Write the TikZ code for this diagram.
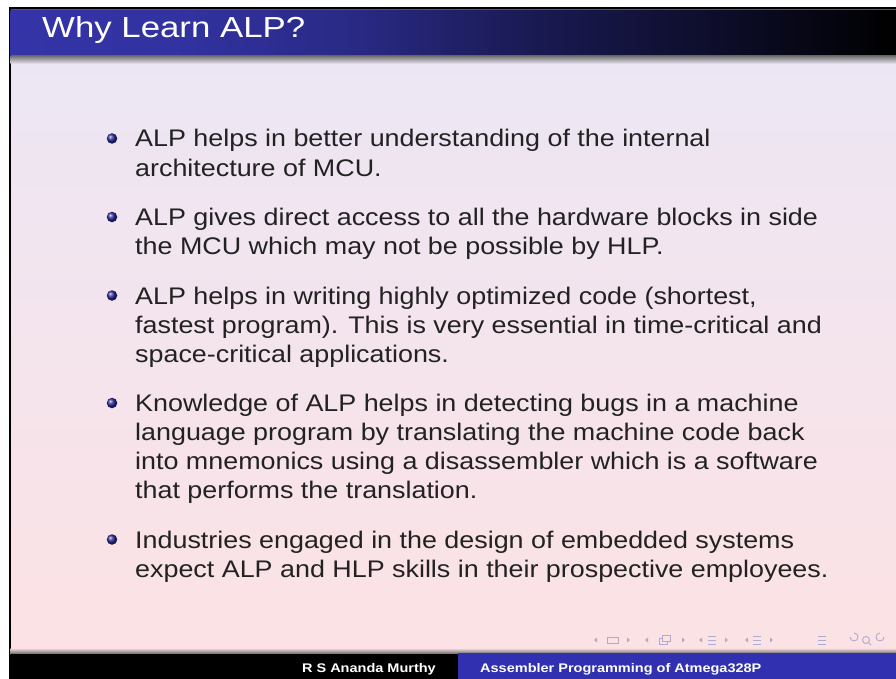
\documentclass[tikz,border=0pt]{standalone}
\usepackage{fontspec}
\setmainfont{Liberation Sans}
\newfontfamily\titlefont[FakeStretch=1.2]{Liberation Sans}
\newfontfamily\bodyfont[FakeStretch=1.12]{Liberation Sans}
\newfontfamily\footfont[FakeStretch=1.16]{Liberation Sans}
\usetikzlibrary{shapes,positioning,calc}

\definecolor{barblue}{RGB}{52,52,168}
\definecolor{footblue}{RGB}{48,48,176}
\definecolor{bgtop}{RGB}{236,230,244}
\definecolor{bgbottom}{RGB}{252,226,228}
\definecolor{navgray}{RGB}{172,172,205}
\definecolor{ballblue}{RGB}{40,40,150}
\definecolor{bodyink}{RGB}{34,34,34}

% frame title bar: blue on the left, fading to black
\pgfdeclarehorizontalshading{titlebar}{100bp}{color(0bp)=(barblue); color(25bp)=(barblue);
  color(35bp)=(barblue!95!black); color(45bp)=(barblue!78!black); color(50bp)=(barblue!62!black);
  color(55bp)=(barblue!48!black); color(65bp)=(barblue!25!black); color(75bp)=(black); color(100bp)=(black)}

\begin{document}
\begin{tikzpicture}[x=1pt, y=-1pt]
    \tikzstyle{item} = [anchor=base west, inner sep=0pt, align=left, text=bodyink, font=\bodyfont\fontsize{24}{29}\selectfont]
    \tikzstyle{ball} = [circle, inner sep=0pt, minimum size=10.5pt, shading=ball, ball color=ballblue]
    \tikzstyle{footer} = [inner sep=0pt, text=white, font=\footfont\bfseries\fontsize{12.5}{14}\selectfont]
    \tikzstyle{nav} = [draw=navgray, line width=0.9pt]

    % page, border and background
    \useasboundingbox (0,0) rectangle (896,679);
    \fill[white] (0,0) rectangle (896,679);
    \shade[top color=bgtop, bottom color=bgbottom] (10,56) rectangle (896,653);
    \fill[black] (9,7) rectangle (896,9);
    \fill[black] (9,7) rectangle (10.5,679);
    \fill[black!65] (10.5,9) rectangle (896,11);

    % Title bar
    \shade[shading=titlebar] (10.5,11) rectangle (896,56);
    \shade[top color=black!55, bottom color=bgtop] (10.5,56) rectangle (896,64);
    \node[anchor=base west, inner sep=0pt, text=white, font=\titlefont\fontsize{29}{34}\selectfont] (title) at (42,38) {Why Learn ALP?};

    % Bullet items (anchored on the baseline of their last line)
    \node[item] (item1) at (135,176) {ALP helps in better understanding of the internal\\architecture of MCU.};
    \node[item] (item2) at (135,254.5) {ALP gives direct access to all the hardware blocks in side\\the MCU which may not be possible by HLP.};
    \node[item] (item3) at (135,362) {ALP helps in writing highly optimized code (shortest,\\fastest program). This is very essential in time-critical and\\space-critical applications.};
    \node[item] (item4) at (135,498.5) {Knowledge of ALP helps in detecting bugs in a machine\\language program by translating the machine code back\\into mnemonics using a disassembler which is a software\\that performs the translation.};
    \node[item] (item5) at (135,577) {Industries engaged in the design of embedded systems\\expect ALP and HLP skills in their prospective employees.};

    \node[ball] (ball1) at (112,138.5) {};
    \node[ball] (ball2) at (112,217) {};
    \node[ball] (ball3) at (112,295.5) {};
    \node[ball] (ball4) at (112,403) {};
    \node[ball] (ball5) at (112,539.5) {};

    % Navigation symbols
    \fill[navgray] (594,640) -- ++(3,-2.5) -- ++(0,5) -- cycle;
    \draw[nav] (607,637) rectangle (618,643);
    \fill[navgray] (630,640) -- ++(-3,-2.5) -- ++(0,5) -- cycle;
    \fill[navgray] (645,640) -- ++(3,-2.5) -- ++(0,5) -- cycle;
    \draw[nav] (659,638) rectangle (667,644);
    \draw[nav, fill=bgbottom] (662,635) rectangle (670,641);
    \fill[navgray] (685,640) -- ++(-3,-2.5) -- ++(0,5) -- cycle;
    \fill[navgray] (699,640) -- ++(3,-2.5) -- ++(0,5) -- cycle;
    \draw[nav] (708,636) -- (716,636) (708,640) -- (716,640) (708,644) -- (716,644);
    \fill[navgray] (728,640) -- ++(-3,-2.5) -- ++(0,5) -- cycle;
    \fill[navgray] (745,640) -- ++(3,-2.5) -- ++(0,5) -- cycle;
    \draw[nav] (753,636) -- (761,636) (753,640) -- (761,640) (753,644) -- (761,644);
    \fill[navgray] (773,640) -- ++(-3,-2.5) -- ++(0,5) -- cycle;
    \draw[nav] (818,636) -- (826,636) (818,640) -- (826,640) (818,644) -- (826,644);
    \draw[nav] (850,637) arc (180:-90:4);
    \draw[nav] (866,640) circle (3.5) (868.5,642.5) -- (871,645);
    \draw[nav] (884,637) arc (0:270:4);

    % Footer
    \shade[top color=bgbottom, bottom color=black!60] (10.5,648) rectangle (896,654);
    \fill[black] (10.5,654) rectangle (458,679);
    \fill[footblue] (458,653) rectangle (896,679);
    \node[footer, anchor=base east] (author) at (436,672) {R S Ananda Murthy};
    \node[footer, anchor=base west] (talk) at (480,672) {Assembler Programming of Atmega328P};
\end{tikzpicture}
\end{document}
